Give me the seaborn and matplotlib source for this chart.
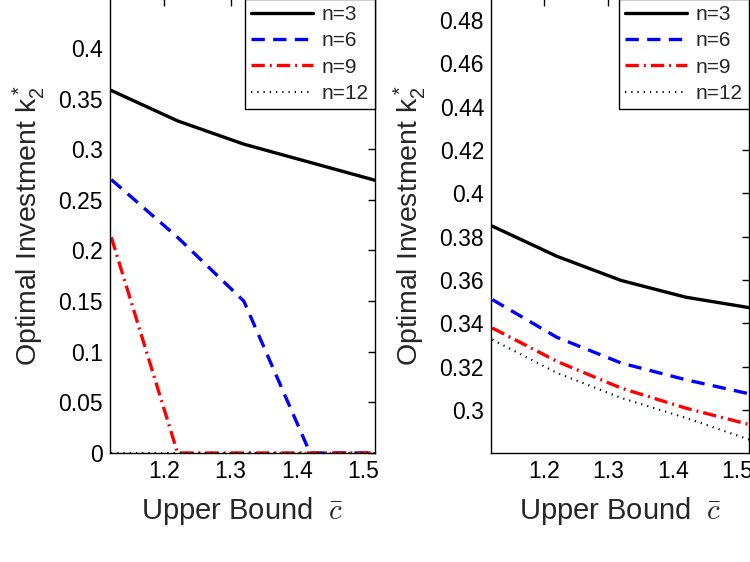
import matplotlib
matplotlib.use("Agg")
import matplotlib.pyplot as plt
import seaborn as sns
import numpy as np
from matplotlib.ticker import FuncFormatter, MultipleLocator

# ---- data ----
c_bar = [1.12, 1.22, 1.32, 1.42, 1.52]
labels = ["n=3", "n=6", "n=9", "n=12"]
left_n3 = [0.358, 0.328, 0.305, 0.287, 0.269]
left_n6 = [0.270, 0.213, 0.150, 0.0, 0.0]
left_n9 = [0.213, 0.0, 0.0, 0.0, 0.0]
left_n12 = [0.0, 0.0, 0.0, 0.0, 0.0]
right_n3 = [0.3848, 0.3709, 0.3597, 0.3520, 0.3471]
right_n6 = [0.3509, 0.3335, 0.3216, 0.3139, 0.3073]
right_n9 = [0.3378, 0.3224, 0.3100, 0.3008, 0.2931]
right_n12 = [0.3324, 0.3171, 0.3055, 0.2963, 0.2861]

sns.set_style("white")
plt.rcParams['font.family'] = ['Liberation Sans', 'DejaVu Sans']
plt.rcParams['mathtext.fontset'] = 'custom'
plt.rcParams['mathtext.rm'] = 'Liberation Sans'
plt.rcParams['mathtext.it'] = 'Liberation Sans:italic'

fig = plt.figure(figsize=(7.5, 5.62), dpi=100)
axL = fig.add_axes([0.1467, 0.194, 0.3533, 0.808])
axR = fig.add_axes([0.6547, 0.194, 0.3440, 0.808])

styles = [dict(color='black', linestyle='-', linewidth=2.4),
          dict(color='blue', linestyle=(0, (4, 2.5)), linewidth=2.4),
          dict(color='red', linestyle=(0, (4, 1.5, 0.6, 1.5)), linewidth=2.4),
          dict(color='black', linestyle=(0, (0.6, 2.4)), linewidth=1.5)]

fmt = FuncFormatter(lambda v, p: ('%g' % round(v, 4)))

for ax, series, ylim, step in [
        (axL, [left_n3, left_n6, left_n9, left_n12], (0, 0.4485), 0.05),
        (axR, [right_n3, right_n6, right_n9, right_n12], (0.2801, 0.4897), 0.02)]:
    for ys, lab, st in zip(series, labels, styles):
        sns.lineplot(x=c_bar, y=ys, ax=ax, label=lab, **st)
    ax.set_xlim(1.118, 1.518)
    ax.set_ylim(*ylim)
    ax.xaxis.set_major_locator(MultipleLocator(0.1))
    ax.yaxis.set_major_locator(MultipleLocator(step))
    ax.xaxis.set_major_formatter(fmt)
    ax.yaxis.set_major_formatter(fmt)
    ax.tick_params(direction='in', length=5, width=1, top=True, right=True,
                   labelsize=16.5, colors='black', pad=5)
    for s in ax.spines.values():
        s.set_visible(True)
        s.set_color('black')
        s.set_linewidth(1.0)
    ax.set_xlabel(r"Upper Bound  $\bar{c}$", fontsize=21, labelpad=9)
    ax.xaxis.label.set_math_fontfamily('cm')
    ax.set_ylabel(r"Optimal Investment $\mathrm{k}_2^*$", fontsize=20.5, labelpad=8)
    leg = ax.legend(loc='upper right', fontsize=15, frameon=True, fancybox=False,
                    edgecolor='black', framealpha=1, borderaxespad=0,
                    handlelength=3.0, labelspacing=0.35, borderpad=0.3,
                    handletextpad=0.4)
    leg.get_frame().set_linewidth(1.0)

fig.savefig("out.png", dpi=100)
